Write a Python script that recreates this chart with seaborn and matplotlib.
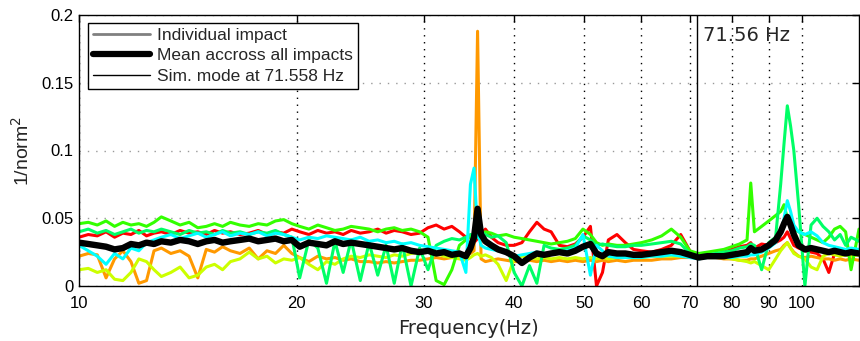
import numpy as np
import pandas as pd
import matplotlib
matplotlib.use('Agg')
import matplotlib.pyplot as plt
from matplotlib.lines import Line2D
from matplotlib.ticker import NullLocator
import seaborn as sns

# frequency grid (Hz)
freq = [10.0, 10.3, 10.6, 10.9, 11.2, 11.5, 11.8, 12.1, 12.4, 12.7,
        13.0, 13.4, 13.8, 14.2, 14.6, 15.0, 15.4, 15.8, 16.2, 16.7,
        17.2, 17.7, 18.2, 18.7, 19.2, 19.7, 20.2, 20.8, 21.4, 22.0,
        22.6, 23.2, 23.8, 24.5, 25.2, 25.9, 26.6, 27.3, 28.0, 28.8,
        29.6, 30.4, 31.2, 32.0, 32.8, 33.6, 34.3, 34.8, 35.2, 35.6,
        36.0, 36.5, 37.2, 38.0, 39.0, 40.0, 41.0, 42.0, 43.0, 44.0,
        45.0, 46.2, 47.4, 48.6, 49.8, 51.0, 52.0, 53.0, 54.0, 55.5,
        57.0, 58.5, 60.0, 62.0, 64.0, 66.0, 68.0, 70.0, 72.0, 74.0,
        76.0, 78.0, 80.0, 82.0, 84.0, 85.0, 86.0, 88.0, 90.0, 92.0,
        93.5, 94.5, 95.5, 96.5, 97.5, 99.0, 101, 103, 105, 107,
        109, 111, 113, 115, 117, 120]

impact_red = [0.036, 0.038, 0.037, 0.040, 0.036, 0.039, 0.038, 0.041, 0.037, 0.039,
              0.040, 0.038, 0.041, 0.039, 0.040, 0.038, 0.041, 0.039, 0.040, 0.038,
              0.039, 0.041, 0.038, 0.040, 0.039, 0.042, 0.040, 0.038, 0.041, 0.039,
              0.040, 0.038, 0.041, 0.039, 0.040, 0.042, 0.039, 0.041, 0.040, 0.038,
              0.039, 0.043, 0.045, 0.042, 0.044, 0.040, 0.036, 0.030, 0.032, 0.035,
              0.038, 0.042, 0.036, 0.032, 0.030, 0.030, 0.032, 0.040, 0.047, 0.042,
              0.040, 0.030, 0.029, 0.031, 0.036, 0.044, 0.000, 0.010, 0.034, 0.038,
              0.032, 0.027, 0.026, 0.025, 0.027, 0.030, 0.038, 0.026, 0.021, 0.022,
              0.023, 0.025, 0.027, 0.029, 0.030, 0.032, 0.028, 0.031, 0.030, 0.032,
              0.034, 0.036, 0.040, 0.035, 0.030, 0.028, 0.026, 0.025, 0.024, 0.020,
              0.010, 0.024, 0.026, 0.024, 0.025, 0.024]

impact_orange = [0.022, 0.024, 0.023, 0.006, 0.020, 0.026, 0.018, 0.002, 0.004, 0.026,
                 0.028, 0.024, 0.026, 0.022, 0.006, 0.027, 0.025, 0.029, 0.026, 0.024,
                 0.028, 0.020, 0.026, 0.024, 0.030, 0.024, 0.021, 0.018, 0.022, 0.020,
                 0.021, 0.019, 0.020, 0.018, 0.018, 0.017, 0.018, 0.017, 0.018, 0.019,
                 0.019, 0.020, 0.021, 0.020, 0.021, 0.022, 0.023, 0.024, 0.026, 0.188,
                 0.020, 0.018, 0.019, 0.020, 0.019, 0.018, 0.018, 0.019, 0.018, 0.019,
                 0.018, 0.019, 0.018, 0.019, 0.018, 0.019, 0.018, 0.019, 0.018, 0.019,
                 0.018, 0.019, 0.019, 0.019, 0.020, 0.020, 0.021, 0.021, 0.021, 0.021,
                 0.021, 0.020, 0.020, 0.019, 0.019, 0.020, 0.020, 0.022, 0.024, 0.026,
                 0.027, 0.030, 0.032, 0.028, 0.025, 0.022, 0.021, 0.022, 0.021, 0.020,
                 0.020, 0.019, 0.020, 0.019, 0.020, 0.019]

impact_yellow = [0.012, 0.013, 0.010, 0.012, 0.005, 0.004, 0.010, 0.020, 0.018, 0.012,
                 0.007, 0.010, 0.014, 0.006, 0.008, 0.014, 0.016, 0.012, 0.018, 0.020,
                 0.025, 0.020, 0.022, 0.017, 0.020, 0.019, 0.021, 0.016, 0.012, 0.018,
                 0.016, 0.020, 0.022, 0.021, 0.023, 0.022, 0.021, 0.023, 0.022, 0.024,
                 0.025, 0.026, 0.024, 0.022, 0.021, 0.020, 0.019, 0.021, 0.023, 0.024,
                 0.022, 0.023, 0.021, 0.016, 0.004, 0.020, 0.022, 0.021, 0.020, 0.021,
                 0.020, 0.021, 0.020, 0.021, 0.020, 0.021, 0.020, 0.021, 0.020, 0.021,
                 0.021, 0.021, 0.021, 0.022, 0.022, 0.022, 0.022, 0.022, 0.021, 0.021,
                 0.021, 0.021, 0.020, 0.019, 0.018, 0.017, 0.018, 0.015, 0.012, 0.020,
                 0.026, 0.029, 0.032, 0.028, 0.024, 0.022, 0.020, 0.014, 0.012, 0.022,
                 0.024, 0.023, 0.022, 0.023, 0.022, 0.023]

impact_lime = [0.046, 0.047, 0.045, 0.048, 0.044, 0.047, 0.045, 0.046, 0.044, 0.047,
               0.051, 0.048, 0.045, 0.047, 0.043, 0.044, 0.046, 0.044, 0.047, 0.045,
               0.044, 0.046, 0.045, 0.048, 0.049, 0.046, 0.044, 0.042, 0.045, 0.043,
               0.041, 0.042, 0.044, 0.043, 0.042, 0.040, 0.042, 0.043, 0.041, 0.042,
               0.040, 0.036, 0.004, 0.001, 0.012, 0.030, 0.034, 0.036, 0.035, 0.037,
               0.038, 0.040, 0.039, 0.037, 0.038, 0.036, 0.035, 0.034, 0.033, 0.032,
               0.031, 0.032, 0.033, 0.035, 0.042, 0.038, 0.032, 0.030, 0.031, 0.030,
               0.030, 0.031, 0.032, 0.034, 0.037, 0.042, 0.036, 0.026, 0.024, 0.025,
               0.026, 0.027, 0.029, 0.031, 0.034, 0.076, 0.040, 0.044, 0.048, 0.052,
               0.055, 0.060, 0.050, 0.045, 0.042, 0.040, 0.038, 0.036, 0.034, 0.032,
               0.036, 0.042, 0.044, 0.040, 0.012, 0.042]

impact_spring = [0.040, 0.042, 0.039, 0.041, 0.038, 0.040, 0.042, 0.039, 0.041, 0.040,
                 0.042, 0.040, 0.038, 0.041, 0.039, 0.040, 0.038, 0.041, 0.039, 0.040,
                 0.038, 0.040, 0.039, 0.041, 0.038, 0.036, 0.006, 0.034, 0.028, 0.002,
                 0.033, 0.010, 0.034, 0.004, 0.032, 0.008, 0.030, 0.002, 0.031, 0.000,
                 0.028, 0.012, 0.030, 0.033, 0.035, 0.034, 0.036, 0.038, 0.037, 0.036,
                 0.040, 0.038, 0.036, 0.037, 0.032, 0.010, 0.000, 0.015, 0.002, 0.030,
                 0.028, 0.027, 0.028, 0.030, 0.037, 0.034, 0.030, 0.031, 0.030, 0.029,
                 0.029, 0.030, 0.030, 0.031, 0.032, 0.033, 0.031, 0.024, 0.022, 0.023,
                 0.024, 0.025, 0.026, 0.028, 0.029, 0.031, 0.030, 0.012, 0.032, 0.036,
                 0.075, 0.105, 0.133, 0.118, 0.100, 0.060, 0.000, 0.045, 0.050, 0.044,
                 0.040, 0.034, 0.038, 0.030, 0.036, 0.033]

impact_cyan = [0.030, 0.026, 0.022, 0.016, 0.024, 0.020, 0.028, 0.026, 0.032, 0.034,
               0.036, 0.038, 0.035, 0.037, 0.039, 0.036, 0.038, 0.040, 0.037, 0.039,
               0.038, 0.040, 0.037, 0.039, 0.038, 0.036, 0.034, 0.036, 0.035, 0.037,
               0.036, 0.035, 0.034, 0.036, 0.033, 0.034, 0.032, 0.033, 0.031, 0.032,
               0.030, 0.029, 0.028, 0.027, 0.026, 0.025, 0.010, 0.075, 0.087, 0.040,
               0.030, 0.028, 0.027, 0.026, 0.025, 0.022, 0.023, 0.024, 0.025, 0.024,
               0.024, 0.025, 0.026, 0.028, 0.038, 0.008, 0.030, 0.026, 0.022, 0.021,
               0.021, 0.021, 0.021, 0.022, 0.022, 0.023, 0.022, 0.021, 0.020, 0.021,
               0.021, 0.021, 0.021, 0.022, 0.022, 0.023, 0.023, 0.025, 0.028, 0.032,
               0.038, 0.050, 0.063, 0.055, 0.045, 0.040, 0.038, 0.040, 0.037, 0.032,
               0.030, 0.029, 0.028, 0.027, 0.028, 0.027]

mean_curve = [0.032, 0.031, 0.030, 0.029, 0.027, 0.028, 0.031, 0.030, 0.032, 0.031,
              0.033, 0.032, 0.034, 0.033, 0.031, 0.033, 0.034, 0.032, 0.033, 0.034,
              0.035, 0.033, 0.034, 0.035, 0.033, 0.034, 0.029, 0.032, 0.031, 0.030,
              0.033, 0.031, 0.032, 0.031, 0.030, 0.029, 0.028, 0.027, 0.028, 0.026,
              0.025, 0.026, 0.024, 0.025, 0.023, 0.024, 0.022, 0.028, 0.036, 0.057,
              0.038, 0.033, 0.030, 0.027, 0.025, 0.022, 0.017, 0.021, 0.024, 0.023,
              0.024, 0.025, 0.024, 0.026, 0.029, 0.031, 0.024, 0.022, 0.025, 0.024,
              0.024, 0.023, 0.023, 0.024, 0.025, 0.026, 0.025, 0.023, 0.021, 0.022,
              0.022, 0.022, 0.023, 0.024, 0.025, 0.028, 0.026, 0.027, 0.030, 0.034,
              0.040, 0.046, 0.051, 0.045, 0.038, 0.030, 0.027, 0.028, 0.027, 0.026,
              0.025, 0.026, 0.025, 0.024, 0.025, 0.024]

impact_names = ['Impact 1', 'Impact 2', 'Impact 3', 'Impact 4', 'Impact 5', 'Impact 6']
impact_colors = ['#ff0000', '#ff9900', '#ccff00', '#33ff00', '#00ff66', '#00ffff']
sim_mode = 71.558
x_ticks = [10, 20, 30, 40, 50, 60, 70, 80, 90, 100]
y_ticks = [0, 0.05, 0.1, 0.15, 0.2]

sns.set_style('white')
plt.rcParams['font.family'] = ['Liberation Sans', 'DejaVu Sans']

impacts = [impact_red, impact_orange, impact_yellow, impact_lime, impact_spring, impact_cyan]
rows = []
for name, vals in zip(impact_names, impacts):
    for f, v in zip(freq, vals):
        rows.append({'freq': f, 'value': v, 'impact': name})
df = pd.DataFrame(rows)

fig = plt.figure(figsize=(8.6, 3.41), dpi=100)
ax = fig.add_axes([79 / 860, 55 / 341, 780 / 860, 271 / 341])

sns.lineplot(data=df, x='freq', y='value', hue='impact', palette=impact_colors,
             estimator=None, sort=False, lw=2.2, legend=False, ax=ax)
sns.lineplot(x=freq, y=mean_curve, color='k', lw=4.6, estimator=None, sort=False, ax=ax)
ax.axvline(sim_mode, color='k', lw=1.0)

ax.set_xscale('log')
ax.set_xlim(10, 120)
ax.set_ylim(0, 0.2)
ax.set_xticks(x_ticks)
ax.set_xticklabels([str(t) for t in x_ticks])
ax.xaxis.set_minor_locator(NullLocator())
ax.set_yticks(y_ticks)
ax.set_yticklabels(['0', '0.05', '0.1', '0.15', '0.2'])

ax.grid(axis='x', which='major', color='k', linestyle=(0, (1, 4)), lw=1.0)
ax.grid(axis='y', which='major', color='#999999', linestyle=(0, (1, 5)), lw=1.0)
ax.set_axisbelow(True)

ax.tick_params(direction='in', top=True, right=True, length=5, width=1, labelsize=12,
               colors='k')
ax.tick_params(axis='x', pad=7)
ax.tick_params(axis='y', pad=4)
for s in ax.spines.values():
    s.set_color('k')
    s.set_linewidth(1.0)

ax.set_xlabel('Frequency(Hz)', fontsize=14, family='DejaVu Sans', labelpad=6)
ax.set_ylabel('1/norm$^2$', fontsize=14, labelpad=6)

ax.text(73.0, 0.1808, '71.56 Hz', fontsize=14, family='DejaVu Sans', va='baseline')

handles = [Line2D([], [], color='#808080', lw=2),
           Line2D([], [], color='k', lw=4.5),
           Line2D([], [], color='k', lw=1)]
labels = ['Individual impact', 'Mean accross all impacts', 'Sim. mode at 71.558 Hz']
leg = ax.legend(handles, labels, loc='upper left', bbox_to_anchor=(0.0115, 0.972),
                fontsize=12.5, frameon=True, fancybox=False, framealpha=1,
                edgecolor='k', borderpad=0.3, labelspacing=0.3, handlelength=3.3,
                handletextpad=0.4, borderaxespad=0)
leg.get_frame().set_linewidth(1.0)

fig.savefig('out.png', dpi=100)
